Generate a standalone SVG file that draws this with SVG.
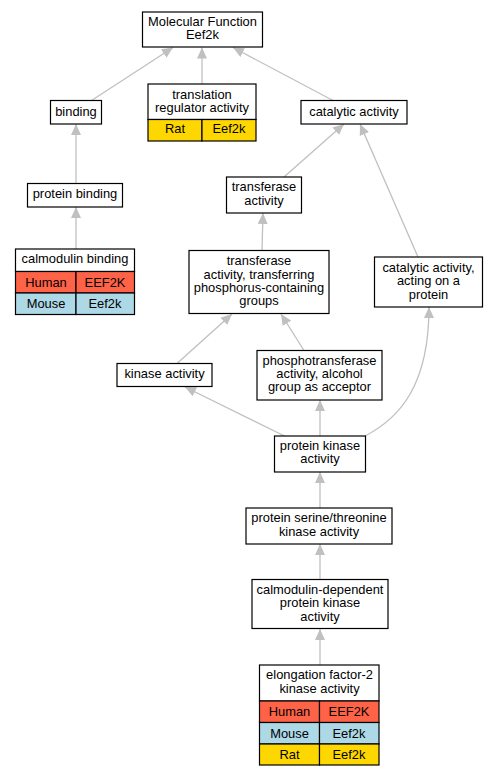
<svg xmlns="http://www.w3.org/2000/svg" width="497" height="776" viewBox="0 0 497 776">
<defs>
<style>
text{font-family:"Liberation Sans",Arial,sans-serif;font-size:12.9px;text-anchor:middle;fill:#000}
.n{fill:#fff;stroke:#000;stroke-width:1.2}
.c{stroke:#000;stroke-width:1.2}
.h{fill:#ff6347}
.m{fill:#add8e6}
.r{fill:#ffd700}
.e{fill:none;stroke:#c0c0c0;stroke-width:1.3;marker-end:url(#a)}
</style>
<marker id="a" markerUnits="userSpaceOnUse" markerWidth="11" markerHeight="11" refX="11" refY="5.5" orient="auto" viewBox="0 0 11 11">
<path d="M0,0.5 L11,5.5 L0,10.5 z" fill="#c0c0c0"/>
</marker>
</defs>
<rect width="497" height="776" fill="#fff"/>
<g id="edges">
<path class="e" d="M91.5,100.5 L173,47.5"/>
<path class="e" d="M202,84 L202,47.5"/>
<path class="e" d="M333,100.5 L233,47.5"/>
<path class="e" d="M76,183.5 L76,124"/>
<path class="e" d="M76,249 L76,207"/>
<path class="e" d="M284,177 L344,124"/>
<path class="e" d="M418,257 L360,124"/>
<path class="e" d="M262,250.5 L263,213"/>
<path class="e" d="M177,363.5 L232,314"/>
<path class="e" d="M304,350.5 L281,314"/>
<path class="e" d="M284.5,436 L185,387"/>
<path class="e" d="M320,436 L320,400"/>
<path class="e" d="M365,436 C400,418 429,385 429,307"/>
<path class="e" d="M320,508 L320,472"/>
<path class="e" d="M320,579.5 L320,544"/>
<path class="e" d="M320,665 L320,629"/>
</g>
<g id="mf">
<rect class="n" x="142.5" y="12" width="120" height="35"/>
<text x="202.5" y="26">Molecular Function</text>
<text x="202.5" y="39">Eef2k</text>
</g>
<g id="translation">
<rect class="n" x="148" y="84" width="108" height="35.5"/>
<rect class="r c" x="148" y="119.5" width="54" height="21.5"/>
<rect class="r c" x="202" y="119.5" width="54" height="21.5"/>
<text x="202" y="98.5">translation</text>
<text x="202" y="111.5">regulator activity</text>
<text x="175" y="132.5">Rat</text>
<text x="229" y="132.5">Eef2k</text>
</g>
<g id="binding">
<rect class="n" x="50.5" y="100.5" width="51" height="23.5"/>
<text x="76" y="116">binding</text>
</g>
<g id="catalytic">
<rect class="n" x="301" y="100.5" width="106" height="23.5"/>
<text x="354" y="116">catalytic activity</text>
</g>
<g id="proteinbinding">
<rect class="n" x="27.5" y="183.5" width="95" height="23.5"/>
<text x="75" y="198">protein binding</text>
</g>
<g id="transferase">
<rect class="n" x="226.5" y="177" width="75" height="36"/>
<text x="264" y="191">transferase</text>
<text x="264" y="205">activity</text>
</g>
<g id="calmodulinbinding">
<rect class="n" x="15.5" y="249" width="119" height="22.5"/>
<rect class="h c" x="15.5" y="271.5" width="60.5" height="21.5"/>
<rect class="h c" x="76" y="271.5" width="58.5" height="21.5"/>
<rect class="m c" x="15.5" y="293" width="60.5" height="21.5"/>
<rect class="m c" x="76" y="293" width="58.5" height="21.5"/>
<text x="75" y="263">calmodulin binding</text>
<text x="46" y="286.5">Human</text>
<text x="105" y="286.5">EEF2K</text>
<text x="46" y="308">Mouse</text>
<text x="105" y="308">Eef2k</text>
</g>
<g id="transferring">
<rect class="n" x="189" y="250.5" width="140" height="63"/>
<text x="259" y="265">transferase</text>
<text x="259" y="278.5">activity, transferring</text>
<text x="259" y="291.5">phosphorus-containing</text>
<text x="259" y="305">groups</text>
</g>
<g id="acting">
<rect class="n" x="374.5" y="257" width="108" height="50"/>
<text x="428.5" y="271.5">catalytic activity,</text>
<text x="428.5" y="285">acting on a</text>
<text x="428.5" y="298.5">protein</text>
</g>
<g id="kinase">
<rect class="n" x="117" y="363.5" width="95" height="23"/>
<text x="164.5" y="377.5">kinase activity</text>
</g>
<g id="phospho">
<rect class="n" x="257" y="350.5" width="125" height="49.5"/>
<text x="319.5" y="365">phosphotransferase</text>
<text x="319.5" y="378">activity, alcohol</text>
<text x="319.5" y="391">group as acceptor</text>
</g>
<g id="proteinkinase">
<rect class="n" x="274.5" y="436" width="91" height="36"/>
<text x="320" y="450">protein kinase</text>
<text x="320" y="463">activity</text>
</g>
<g id="serine">
<rect class="n" x="246" y="508" width="146" height="36"/>
<text x="319" y="522">protein serine/threonine</text>
<text x="319" y="535.5">kinase activity</text>
</g>
<g id="camdep">
<rect class="n" x="252" y="579.5" width="136" height="49"/>
<text x="320" y="593.5">calmodulin-dependent</text>
<text x="320" y="607">protein kinase</text>
<text x="320" y="620.5">activity</text>
</g>
<g id="elongation">
<rect class="n" x="259.5" y="665" width="119.5" height="36"/>
<rect class="h c" x="259.5" y="701" width="60" height="21.5"/>
<rect class="h c" x="319.5" y="701" width="59.5" height="21.5"/>
<rect class="m c" x="259.5" y="722.5" width="60" height="21.5"/>
<rect class="m c" x="319.5" y="722.5" width="59.5" height="21.5"/>
<rect class="r c" x="259.5" y="744" width="60" height="21"/>
<rect class="r c" x="319.5" y="744" width="59.5" height="21"/>
<text x="319.5" y="678.5">elongation factor-2</text>
<text x="319.5" y="692.5">kinase activity</text>
<text x="289.5" y="716">Human</text>
<text x="349" y="716">EEF2K</text>
<text x="289.5" y="737.5">Mouse</text>
<text x="349" y="737.5">Eef2k</text>
<text x="289.5" y="758.5">Rat</text>
<text x="349" y="758.5">Eef2k</text>
</g>
</svg>
